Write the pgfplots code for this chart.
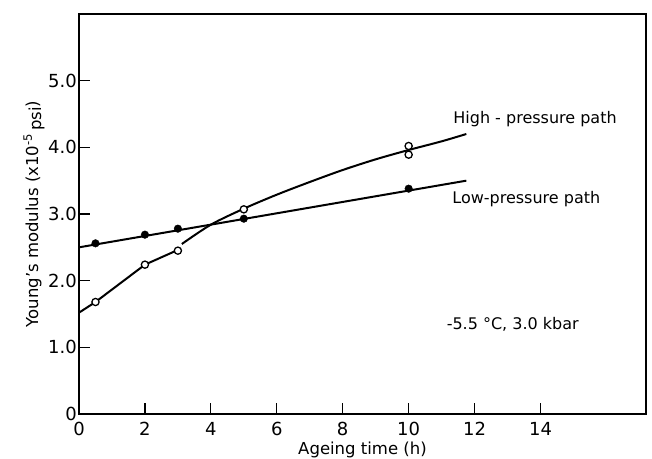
\documentclass[border=0pt]{standalone}
\usepackage{fontspec}
\setmainfont{DejaVu Sans}
\usepackage{pgfplots}
\pgfplotsset{compat=1.18}

\begin{document}
\begin{tikzpicture}
\begin{axis}[
  scale only axis,
  width=567bp, height=400bp,
  xmin=0, xmax=17.2,
  ymin=0, ymax=6.0,
  axis line style={line width=1.5bp},
  tick align=inside,
  major tick length=11bp,
  tick style={line width=1.2bp, black},
  xtick={0,2,4,6,8,10,12,14},
  ytick={0,1,2,3,4,5},
  yticklabels={0,1.0,2.0,3.0,4.0,5.0},
  xtick pos=bottom, ytick pos=left,
  /pgf/number format/assume math mode=true,
  ticklabel style={font=\fontsize{18bp}{20bp}\selectfont},
  yticklabel style={inner sep=2bp},
  xticklabel style={inner sep=3bp, yshift=-5bp},
  label style={font=\fontsize{16.5bp}{18bp}\selectfont},
  xlabel={Ageing time (h)},
  ylabel={Young's modulus (x10\textsuperscript{-5}\,\raisebox{-0.35ex}{psi})},
  xlabel style={yshift=-2bp, inner sep=1bp},
  ylabel style={yshift=-2bp},
  clip=false,
]
% fitted curves
\addplot[line width=2bp, black] coordinates {(0,2.50) (11.75,3.50)};
\addplot[line width=2bp, black] coordinates {(0,1.52) (0.5,1.68) (2,2.24) (2.95,2.45)};
\addplot[line width=2bp, black, smooth, tension=0.5] coordinates {
  (3.12,2.55) (4,2.84) (5,3.08) (6,3.29) (7,3.48) (8,3.66) (9,3.82) (10,3.96) (11,4.09) (11.75,4.20)};
% measured points, low-pressure path
\addplot[only marks, mark=*, mark size=3.8bp, mark options={fill=black, draw=black}]
  coordinates {(0.5,2.56) (2,2.69) (3,2.78) (5,2.93) (10,3.38)};
% measured points, high-pressure path
\addplot[only marks, mark=*, mark size=3.6bp, mark options={fill=white, draw=black, line width=1.3bp}]
  coordinates {(0.5,1.68) (2,2.24) (3,2.45) (5,3.07) (10,4.02) (10,3.89)};
\node[anchor=west, font=\fontsize{16bp}{18bp}\selectfont] at (axis cs:11.25,4.42) {High - pressure path};
\node[anchor=west, font=\fontsize{16bp}{18bp}\selectfont] at (axis cs:11.22,3.22) {Low-pressure path};
\node[anchor=west, font=\fontsize{16bp}{18bp}\selectfont] at (axis cs:11.05,1.34) {-5.5 °C, 3.0 kbar};
\end{axis}
\pgfresetboundingbox
\path[use as bounding box] ([shift={(-79bp,-45bp)}]current axis.south west) rectangle ([shift={(6bp,14bp)}]current axis.north east);
\end{tikzpicture}
\end{document}
